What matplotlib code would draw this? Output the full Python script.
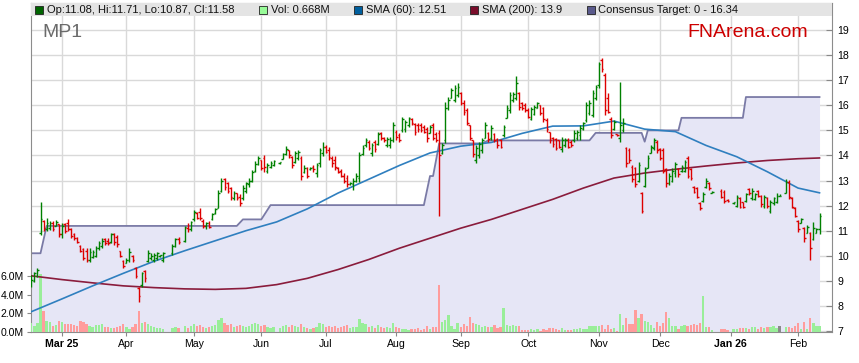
import numpy as np
import pandas as pd
import matplotlib
matplotlib.use('Agg')
import matplotlib.pyplot as plt
from matplotlib.patches import Rectangle

plt.rcParams['font.family'] = ['Liberation Sans', 'DejaVu Sans']

# trading days (weekdays minus ASX holidays)
START = '2025-02-17'
holidays = ['2025-04-18', '2025-04-21', '2025-04-25', '2025-06-09',
            '2025-12-25', '2025-12-26', '2026-01-01', '2026-01-26']
days = pd.bdate_range(START, '2026-02-11')
days = days[~days.isin(pd.to_datetime(holidays))]

opens = [
    8.95, 9.0, 9.2, 10.9, 11.4, 11.05, 11.1, 11.3, 11.2, 11.25,
    10.85, 11.25, 11.3, 11.05, 10.85, 10.7, 10.4, 10.25, 10.2, 9.85,
    9.95, 10.0, 10.3, 10.4, 10.65, 10.6, 10.55, 10.85, 10.75, 10.2,
    9.8, 9.72, 9.85, 10.0, 9.5, 8.7, 8.85, 9.4, 9.8, 9.9,
    9.85, 9.9, 10.0, 9.85, 10.1, 10.4, 10.65,
    10.6, 11.1, 11.05, 11.45, 11.7, 11.75, 11.4, 11.2, 11.3, 11.45,
    11.7, 11.9, 12.6, 13.05, 12.9, 12.7, 12.3, 12.5, 12.35, 12.3,
    12.6, 12.85, 13.0, 13.4, 13.65, 13.8, 13.9, 13.4, 13.55, 13.6,
    13.7, 13.85, 14.05, 14.2, 13.95, 13.75, 13.9, 13.9, 13.35,
    13.5, 13.45, 13.55, 13.3, 13.7, 14.1, 14.35, 14.2, 13.9, 13.8,
    13.5, 13.4, 13.2, 13.1, 12.85, 12.85, 13.0, 13.1, 14.05, 14.4,
    14.55, 14.1, 14.55, 14.45, 14.9, 14.7, 14.4, 14.4, 14.6, 14.95,
    14.8, 15.0, 15.05, 15.2, 15.45, 15.25, 15.2, 15.2, 15.15, 15.05,
    14.9, 15.2, 14.85, 14.9, 14.1, 14.6, 15.9, 16.3, 16.2, 16.4,
    16.5, 16.1, 15.8, 15.2, 14.6, 13.8, 14.0, 14.2, 14.7, 14.9,
    14.7, 14.85, 14.65, 14.6, 14.8, 15.5, 15.8, 16.2, 16.3, 16.5,
    16.1, 16.0, 15.8, 15.45, 15.65, 15.9, 16.0, 15.9, 15.4, 14.95,
    14.7, 14.65, 14.6, 14.25, 14.4, 14.6, 14.55, 14.6, 14.7, 14.8,
    15.05, 15.4, 15.7, 15.6, 16.3, 16.8, 17.8, 17.2, 16.3, 15.45,
    15.05, 14.85, 14.7, 15.0, 14.3, 14.2, 13.55, 13.5, 13.0, 12.5,
    12.8, 13.5, 14.1, 14.3, 14.55, 14.25, 14.2, 13.45, 12.9, 13.0,
    13.3, 13.45, 13.4, 13.4, 13.9, 13.45, 12.75, 12.7, 12.1, 12.2,
    12.75, 12.9, 12.5, 12.6, 12.55, 12.22,
    12.1, 12.0, 12.3, 12.15, 12.2, 12.65, 12.3, 12.25, 12.6, 12.4,
    12.0, 12.3, 11.8, 12.1, 12.15, 12.4,
    12.5, 12.95, 12.3, 11.9, 11.4, 11.3, 11.1, 10.9, 10.9, 10.65, 10.9, 11.08]

highs = [
    9.25, 9.35, 9.5, 12.14, 11.43, 11.5, 11.37, 11.37, 11.43, 11.28,
    11.3, 11.3, 11.45, 11.1, 10.9, 10.76, 10.43, 10.3, 10.3, 10.3,
    10.23, 10.38, 10.57, 10.7, 10.7, 10.7, 10.9, 10.9, 10.83, 10.2,
    9.83, 9.9, 10.3, 10.03, 9.56, 8.76, 9.37, 9.43, 10.23, 10.1,
    10.1, 10.16, 10.05, 10.16, 10.45, 10.7, 10.75,
    11.2, 11.3, 11.4, 11.84, 11.75, 11.9, 11.45, 11.35, 11.4, 11.71,
    11.9, 12.63, 13.09, 13.09, 12.96, 12.76, 12.6, 12.5, 12.45, 12.83,
    12.96, 13.1, 13.43, 13.76, 13.96, 13.83, 14.03, 13.7, 13.76, 13.83,
    13.75, 14.1, 14.36, 14.23, 13.96, 14.16, 14.23, 13.96, 13.62,
    13.55, 13.55, 13.62, 13.69, 14.29, 14.55, 14.42, 14.35, 13.96, 13.96,
    13.55, 13.48, 13.29, 13.22, 12.95, 13.09, 13.29, 14.15, 14.42, 14.68,
    14.62, 14.49, 14.62, 14.95, 14.95, 14.75, 14.75, 14.75, 15.35, 15.02,
    14.88, 15.55, 15.42, 15.55, 15.48, 15.28, 15.28, 15.28, 15.22, 15.15,
    15.22, 15.28, 14.95, 15.02, 14.49, 16.15, 16.35, 16.68, 16.82, 16.88,
    16.55, 16.22, 15.88, 15.22, 14.62, 14.42, 14.55, 14.68, 15.35, 14.95,
    15.22, 14.88, 14.68, 14.65, 15.22, 16.02, 16.55, 16.55, 17.15, 16.55,
    16.15, 16.08, 15.88, 15.95, 16.02, 16.15, 16.02, 15.95, 15.48, 14.95,
    14.75, 14.68, 14.62, 14.75, 14.68, 14.68, 14.61, 15.01, 15.01, 15.21,
    15.34, 16.14, 16.21, 16.61, 16.81, 17.74, 17.87, 17.27, 16.48, 15.55,
    15.41, 14.85, 16.94, 15.48, 14.35, 14.28, 13.62, 13.55, 13.75, 12.56,
    13.55, 14.02, 14.42, 14.68, 14.61, 14.28, 14.28, 13.49, 13.29, 13.49,
    13.75, 13.49, 13.62, 13.82, 13.98, 13.49, 12.78, 12.75, 12.16, 12.56,
    13.09, 12.95, 12.58, 12.66, 12.62, 12.25,
    12.15, 12.42, 12.36, 12.16, 12.49, 12.69, 12.69, 12.49, 12.62, 12.42,
    12.42, 12.36, 12.22, 12.36, 12.49, 12.45,
    13.05, 13.02, 12.35, 11.96, 11.42, 11.5, 11.16, 11.22, 10.95, 11.36, 11.12, 11.71]

lows = [
    8.75, 8.95, 9.15, 10.83, 10.97, 10.97, 11.03, 10.97, 11.17, 10.76,
    10.7, 10.9, 10.97, 10.7, 10.63, 10.5, 10.16, 9.83, 9.77, 9.77,
    9.9, 9.96, 10.23, 10.3, 10.43, 10.43, 10.5, 10.43, 10.36, 9.96,
    9.5, 9.7, 9.77, 9.77, 9.1, 8.17, 8.76, 8.97, 9.77, 9.85,
    9.77, 9.83, 9.95, 9.77, 10.05, 10.35, 10.45,
    10.55, 10.95, 11.0, 11.4, 11.45, 11.42, 11.1, 11.05, 11.1, 11.44,
    11.65, 11.9, 12.55, 12.63, 12.5, 12.24, 12.24, 12.24, 12.0, 12.24,
    12.5, 12.76, 12.96, 13.36, 13.63, 13.43, 13.36, 13.3, 13.5, 13.56,
    13.65, 13.85, 14.0, 13.9, 13.5, 13.7, 13.83, 13.02, 13.29,
    13.09, 13.42, 13.35, 13.15, 13.55, 13.96, 14.09, 13.82, 13.55, 13.42,
    13.29, 13.15, 12.89, 12.75, 12.82, 12.62, 12.95, 12.95, 14.0, 14.35,
    14.22, 13.96, 14.15, 14.42, 14.62, 14.55, 14.35, 14.29, 14.55, 14.62,
    14.55, 14.95, 14.95, 15.15, 15.22, 14.82, 14.95, 14.95, 14.88, 14.55,
    14.88, 14.62, 14.55, 11.6, 14.05, 14.5, 15.82, 16.28, 16.15, 16.35,
    16.02, 15.62, 15.22, 14.62, 13.95, 13.69, 13.89, 14.09, 14.68, 14.55,
    14.62, 14.55, 14.29, 14.29, 14.75, 15.48, 15.68, 16.15, 16.22, 15.82,
    15.82, 15.75, 15.48, 15.42, 15.6, 15.88, 15.6, 15.35, 14.95, 14.49,
    14.35, 14.22, 14.29, 14.15, 14.35, 14.28, 14.35, 14.55, 14.61, 14.61,
    15.0, 15.34, 15.61, 15.54, 16.2, 16.68, 17.34, 15.61, 15.68, 14.68,
    15.0, 14.78, 14.55, 14.95, 13.55, 13.69, 12.95, 12.75, 12.95, 11.69,
    12.75, 13.49, 14.08, 14.22, 14.08, 13.82, 13.29, 12.75, 12.82, 12.95,
    13.15, 13.15, 13.35, 13.35, 13.09, 13.02, 12.49, 12.29, 11.82, 12.16,
    12.69, 12.62, 12.5, 12.29, 12.09, 12.15,
    12.08, 11.96, 11.89, 11.89, 12.16, 12.42, 12.22, 12.22, 12.36, 11.96,
    11.89, 11.89, 11.69, 12.02, 12.09, 12.38,
    12.49, 12.25, 11.89, 11.56, 10.96, 11.29, 10.56, 10.89, 9.85, 10.63, 10.9, 10.87]

closes = [
    9.05, 9.3, 9.45, 11.45, 11.1, 11.3, 11.3, 11.05, 11.35, 10.85,
    11.2, 11.0, 11.05, 10.8, 10.7, 10.55, 10.2, 9.9, 9.85, 10.15,
    10.15, 10.3, 10.5, 10.6, 10.5, 10.5, 10.85, 10.55, 10.45, 10.0,
    9.6, 9.85, 10.15, 9.85, 9.2, 8.4, 9.3, 9.1, 10.1, 10.0,
    10.05, 10.1, 10.02, 10.1, 10.4, 10.65, 10.55,
    11.15, 11.05, 11.35, 11.75, 11.5, 11.5, 11.2, 11.3, 11.15, 11.65,
    11.85, 12.5, 13.0, 12.75, 12.6, 12.35, 12.5, 12.3, 12.1, 12.7,
    12.9, 13.0, 13.35, 13.65, 13.9, 13.5, 13.55, 13.6, 13.7, 13.78,
    13.72, 14.05, 14.25, 14.0, 13.6, 14.1, 14.15, 13.2, 13.5,
    13.2, 13.5, 13.45, 13.6, 14.2, 14.35, 14.15, 13.95, 13.7, 13.55,
    13.35, 13.2, 13.0, 12.85, 12.9, 13.0, 13.2, 14.0, 14.3, 14.6,
    14.3, 14.4, 14.25, 14.85, 14.7, 14.6, 14.65, 14.6, 15.2, 14.75,
    14.6, 15.45, 15.35, 15.5, 15.3, 14.95, 15.05, 15.0, 14.95, 14.7,
    15.15, 14.7, 14.6, 14.0, 14.4, 15.9, 16.2, 16.6, 16.7, 16.75,
    16.1, 15.75, 15.3, 14.7, 14.05, 14.3, 14.45, 14.6, 15.2, 14.65,
    15.1, 14.6, 14.4, 14.35, 15.15, 15.9, 16.4, 16.45, 16.9, 15.95,
    15.9, 15.8, 15.55, 15.85, 15.95, 16.1, 15.7, 15.45, 15.05, 14.6,
    14.45, 14.3, 14.35, 14.6, 14.6, 14.35, 14.4, 14.9, 14.95, 15.1,
    15.3, 16.0, 16.1, 16.5, 16.75, 17.65, 17.45, 15.8, 15.75, 14.8,
    15.35, 14.8, 15.2, 15.3, 13.7, 13.8, 13.05, 12.85, 13.6, 11.8,
    13.45, 13.9, 14.35, 14.6, 14.2, 13.9, 13.4, 12.9, 13.2, 13.4,
    13.65, 13.25, 13.55, 13.75, 13.2, 13.1, 12.55, 12.35, 11.9, 12.45,
    13.0, 12.7, 12.55, 12.35, 12.2, 12.18,
    12.13, 12.35, 11.95, 11.95, 12.45, 12.5, 12.6, 12.45, 12.4, 12.05,
    12.35, 12.0, 12.15, 12.3, 12.4, 12.4,
    12.95, 12.35, 11.95, 11.6, 11.05, 11.45, 10.7, 11.15, 10.3, 11.1, 11.05, 11.58]

volume_m = [
    0.9, 0.6, 0.9, 6.2, 2.2, 1.2, 1.0, 0.6, 0.7, 1.2,
    1.1, 0.8, 0.8, 0.8, 0.7, 0.6, 1.2, 1.1, 0.8, 0.6,
    0.5, 0.7, 0.7, 0.8, 0.5, 0.5, 0.4, 0.4, 0.5, 0.6,
    0.8, 0.5, 0.3, 0.5, 0.8, 2.2, 0.9, 1.1, 0.8, 0.6,
    0.5, 0.4, 0.4, 0.3, 0.4, 0.5, 0.4,
    0.6, 0.4, 0.6, 0.8, 0.6, 0.7, 0.5, 0.4, 0.5, 0.6,
    0.7, 1.3, 1.5, 0.9, 0.7, 0.8, 0.5, 0.6, 0.7, 0.6,
    0.5, 0.6, 0.8, 0.9, 0.8, 0.6, 0.7, 0.5, 0.4, 0.5,
    0.4, 0.6, 0.7, 0.5, 0.7, 0.6, 0.5, 0.8, 0.5,
    0.4, 0.3, 0.4, 0.5, 0.9, 0.8, 0.5, 0.6, 0.5, 0.6,
    0.4, 0.5, 0.6, 0.7, 0.4, 0.5, 0.5, 1.4, 0.9, 0.8,
    0.5, 0.6, 0.4, 0.7, 0.5, 0.4, 0.5, 0.4, 0.9, 0.5,
    0.4, 0.3, 0.3, 0.2, 0.25, 0.3, 0.35, 0.2, 0.3, 0.6,
    0.3, 0.5, 0.5, 5.0, 1.1, 1.3, 1.8, 0.6, 0.3, 0.9,
    0.5, 0.8, 0.6, 1.6, 0.9, 0.8, 0.7, 0.5, 0.6, 0.5,
    0.5, 0.7, 0.4, 0.5, 2.6, 0.7, 0.6, 0.7, 0.6, 0.6,
    0.2, 0.2, 0.2, 0.3, 0.2, 0.3, 0.1, 0.3, 0.2, 0.4,
    0.4, 0.3, 0.2, 0.4, 0.2, 0.2, 0.2, 0.3, 0.3, 0.4,
    0.3, 0.3, 0.6, 0.6, 0.6, 0.6, 0.7, 0.3, 0.7, 0.3,
    0.4, 0.1, 1.9, 0.7, 1.5, 0.8, 0.8, 2.3, 1.5, 1.9,
    1.2, 1.0, 0.7, 0.4, 1.0, 0.6, 0.9, 2.1, 1.5, 0.6,
    0.6, 0.3, 0.6, 0.7, 0.6, 0.7, 0.8, 0.7, 0.9, 3.9,
    0.5, 0.5, 0.2, 0.3, 0.3, 0.2,
    0.3, 0.3, 0.4, 0.4, 0.4, 0.3, 0.5, 0.5, 0.3, 0.5,
    0.4, 0.5, 0.5, 0.6, 0.4, 0.6,
    0.5, 0.5, 0.4, 0.6, 0.9, 0.3, 1.0, 0.3, 1.5, 0.9, 0.6, 0.668]

# moving averages read every two weeks (Mondays from 17 Feb) plus last day
sma_dates = list(pd.date_range(START, periods=26, freq='14D')) + [pd.Timestamp('2026-02-11')]
sma60 = [7.77, 8.28, 8.8, 9.3, 9.78, 10.2, 10.6, 11.0, 11.35, 11.87,
         12.5, 13.05, 13.6, 14.1, 14.37, 14.52, 14.88, 15.17, 15.18, 15.37,
         15.05, 14.95, 14.4, 13.95, 13.35, 12.7, 12.51]
sma200 = [9.2, 9.05, 8.92, 8.8, 8.73, 8.68, 8.66, 8.7, 8.85, 9.1,
          9.45, 9.85, 10.3, 10.7, 11.1, 11.45, 11.85, 12.25, 12.7, 13.1,
          13.3, 13.45, 13.58, 13.7, 13.8, 13.87, 13.9]

# consensus target (vertices of the step line)
target_dates = ['2025-02-17', '2025-02-20', '2025-02-24', '2025-05-21', '2025-05-23',
                '2025-06-02', '2025-06-05', '2025-08-14', '2025-08-18', '2025-08-19',
                '2025-08-21', '2025-09-10', '2025-09-12', '2025-10-29', '2025-10-31',
                '2025-11-21', '2025-11-24', '2025-11-25', '2025-12-09', '2025-12-10',
                '2026-01-07', '2026-01-08', '2026-02-11']
target_vals = [10.1, 10.1, 11.19, 11.19, 11.45, 11.45, 12.02, 12.02, 13.18, 13.18,
               14.48, 14.48, 14.6, 14.6, 14.9, 14.9, 14.55, 15.0, 15.0, 15.5,
               15.5, 16.33, 16.33]

month_dates = ['2025-03-03', '2025-04-01', '2025-05-01', '2025-06-02', '2025-07-01',
               '2025-08-01', '2025-09-01', '2025-10-01', '2025-11-03', '2025-12-01',
               '2026-01-01', '2026-02-02']
month_labels = ['Mar 25', 'Apr', 'May', 'Jun', 'Jul', 'Aug', 'Sep', 'Oct', 'Nov',
                'Dec', 'Jan 26', 'Feb']


def wpos(dates):
    d = pd.to_datetime(dates).values.astype('datetime64[D]')
    return np.busday_count(np.datetime64(START), d)


x = wpos(days)
o, h, l, c = map(np.array, (opens, highs, lows, closes))
vol = np.array(volume_m)

W, H = 859, 363
fig = plt.figure(figsize=(W / 100, H / 100), dpi=100)
L, R, T, B = 31, 832, 3, 332
ax = fig.add_axes([L / W, 1 - B / H, (R - L) / W, (B - T) / H])
axv = ax.twinx()
axp = ax.twinx()

xlim = (-0.1, 261.07)
plim = (6.96, 20.08)
for a in (ax, axv, axp):
    a.set_xlim(*xlim)
ax.set_ylim(*plim)
axp.set_ylim(*plim)
axv.set_ylim(-0.03, 35.54)

# background: grid + consensus target
ax.set_yticks(range(7, 20))
ax.set_xticks(wpos(month_dates))
ax.set_xticklabels(month_labels)
ax.grid(True, color='#d9d9d9', lw=1)
ax.set_axisbelow(True)
ax.tick_params(axis='y', left=False, labelleft=False, right=False, labelright=False)
ax.tick_params(axis='x', length=3, color='#888888', labelsize=7.6, pad=2)
for lab in ax.get_xticklabels():
    if lab.get_text() in ('Mar 25', 'Jan 26'):
        lab.set_fontweight('bold')
for s in ax.spines.values():
    s.set_color('#8c8c8c')

tx = wpos(target_dates)
ax.fill_between(tx, target_vals, 6.0, color='#e6e6f6', lw=0, zorder=1)
ax.plot(tx, target_vals, color='#7a7aa6', lw=1.3, zorder=2)

# volume
up = c >= o
vcol = np.where(c == o, '#8a8a8a', np.where(up, '#99ee99', '#ff9c9c'))
axv.bar(x, vol, width=0.75, color=vcol, lw=0)
axv.yaxis.tick_left()
axv.set_yticks([0, 2, 4, 6])
axv.set_yticklabels(['0.0M', '2.0M', '4.0M', '6.0M'])
axv.tick_params(axis='y', length=3, color='#888888', labelsize=7.6, pad=2)
for s in axv.spines.values():
    s.set_visible(False)

# price: moving averages and OHLC bars
sx = wpos(sma_dates)
axp.plot(sx, sma200, color='#8a1c3c', lw=1.2)
axp.plot(sx, sma60, color='#2f7fbf', lw=1.2)
bcol = np.where(up, '#008000', '#dd0000')
axp.vlines(x, l, h, colors=bcol, lw=1.0)
axp.hlines(o, x - 0.55, x, colors=bcol, lw=1.0)
axp.hlines(c, x, x + 0.55, colors=bcol, lw=1.0)
axp.yaxis.tick_right()
axp.set_yticks(range(7, 20))
axp.tick_params(axis='y', direction='in', length=4, color='#888888', labelsize=7.6, pad=4)
for s in axp.spines.values():
    s.set_visible(False)

# header strip with legend
axp.add_patch(Rectangle((0, 1 - 13 / 329), 1, 13 / 329, transform=axp.transAxes,
                        color='#e4e4e4', lw=0, zorder=5, clip_on=False))


def px(xp, yp):
    return xp / W, 1 - yp / H


legend = [(35, '#006400', 47, 'Op:11.08, Hi:11.71, Lo:10.87, Cl:11.58'),
          (259, '#98fb98', 271, 'Vol: 0.668M'),
          (354, '#005f9e', 366, 'SMA (60): 12.51'),
          (470, '#7a0d2b', 482, 'SMA (200): 13.9'),
          (587, '#5a5a8c', 598, 'Consensus Target: 0 - 16.34')]
for sx0, col, tx0, txt in legend:
    fig.add_artist(Rectangle(px(sx0, 14), 7.5 / W, 7.5 / H, transform=fig.transFigure,
                             facecolor=col, edgecolor='#222222', lw=0.6))
    fig.text(*px(tx0, 10.3), txt, fontsize=8, va='center', ha='left', color='#111111')

fig.text(*px(42, 32.5), 'MP1', fontsize=14, color='#6a6a6a', va='center', ha='left')
fig.text(*px(808, 32.5), 'FNArena.com', fontsize=14, color='#cc0000', va='center', ha='right')

fig.savefig('out.png', dpi=100)
